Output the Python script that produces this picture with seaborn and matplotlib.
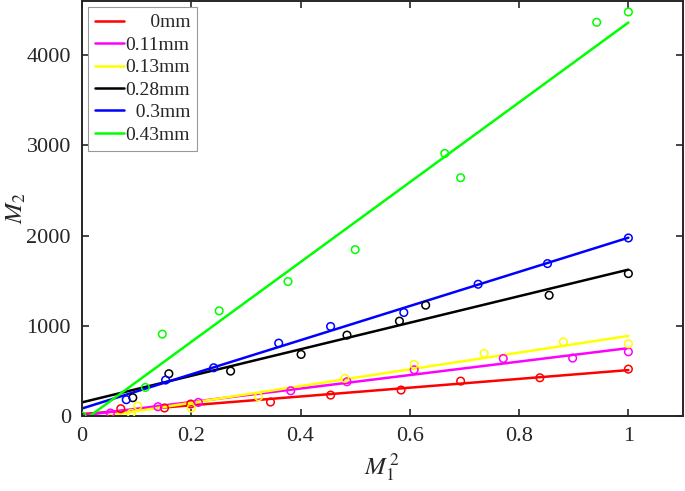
import numpy as np
import pandas as pd
import seaborn as sns
import matplotlib.pyplot as plt

# M1^2 / M2 readings for each defect depth
labels = ["0mm", "0.11mm", "0.13mm", "0.28mm", "0.3mm", "0.43mm"]
legend_text = ["     0mm", "0.11mm", "0.13mm", "0.28mm", "  0.3mm", "0.43mm"]
colors = ["#ff0000", "#ff00ff", "#ffff00", "#000000", "#0000ff", "#00ff00"]

x_0 = [0.071, 0.151, 0.199, 0.345, 0.455, 0.584, 0.693, 0.838, 1.0]
y_0 = [81, 89, 133, 155, 232, 288, 387, 424, 520]

x_011 = [0.052, 0.139, 0.213, 0.382, 0.485, 0.608, 0.771, 0.898, 1.0]
y_011 = [33, 103, 151, 280, 380, 513, 638, 642, 712]

x_013 = [0.09, 0.102, 0.2, 0.323, 0.481, 0.608, 0.736, 0.881, 1.0]
y_013 = [30, 111, 89, 214, 417, 572, 694, 823, 801]

x_028 = [0.093, 0.159, 0.272, 0.401, 0.485, 0.581, 0.629, 0.855, 1.0]
y_028 = [203, 469, 498, 683, 897, 1052, 1229, 1339, 1579]

x_03 = [0.081, 0.153, 0.241, 0.36, 0.455, 0.589, 0.725, 0.852, 1.0]
y_03 = [181, 399, 535, 808, 993, 1148, 1461, 1690, 1974]

x_043 = [0.0, 0.116, 0.147, 0.251, 0.377, 0.5, 0.664, 0.693, 0.942, 1.0]
y_043 = [0, 317, 908, 1166, 1491, 1845, 2911, 2642, 4365, 4480]

xs = [x_0, x_011, x_013, x_028, x_03, x_043]
ys = [y_0, y_011, y_013, y_028, y_03, y_043]

sns.set_style("ticks")
plt.rcParams["font.family"] = ["Liberation Serif", "DejaVu Serif"]
plt.rcParams["mathtext.fontset"] = "stix"

fig = plt.figure(figsize=(6.85, 4.91), dpi=100)
ax = fig.add_axes([0.1197, 0.1527, 0.8774, 0.845])

for lab, txt, c, x, y in zip(labels, legend_text, colors, xs, ys):
    x = np.array(x)
    y = np.array(y)
    k, b = np.polyfit(x, y, 1)
    xf = np.array([0.0, x.max()])
    fit = pd.DataFrame({"x": xf, "y": k * xf + b})
    sns.lineplot(data=fit, x="x", y="y", color=c, lw=1.8, label=txt, ax=ax)
    sns.scatterplot(x=x, y=y, marker="o", s=30, facecolors="none",
                    edgecolor=c, linewidth=1.1, legend=False, ax=ax, zorder=3)

ax.set_xlim(0, 1.1)
ax.set_ylim(0, 4600)
ax.set_xticks([0, 0.2, 0.4, 0.6, 0.8, 1.0])
ax.set_xticklabels(["0", "0.2", "0.4", "0.6", "0.8", "1"])
ax.set_yticks([0, 1000, 2000, 3000, 4000])
ax.set_yticklabels(["0", "1000", "2000", "3000", "4000"])
ax.tick_params(direction="in", top=True, right=True, length=5, width=1.2,
               labelsize=16, pad=8)
for s in ax.spines.values():
    s.set_linewidth(1.4)

ax.set_xlabel(r"$M_1^{\,2}$", fontsize=18)
ax.set_ylabel(r"$M_2$", fontsize=18)
ax.xaxis.set_label_coords(0.5, -0.085)
ax.yaxis.set_label_coords(-0.09, 0.5)

leg = ax.legend(loc="upper left", frameon=True, fancybox=False,
                edgecolor="#999999", framealpha=1, labelspacing=0.25,
                handlelength=1.5, handletextpad=0.1, borderaxespad=0.3,
                borderpad=0.35, prop={"family": "Liberation Serif", "size": 14})
leg.get_frame().set_linewidth(0.8)

fig.savefig("out.png", dpi=100)
